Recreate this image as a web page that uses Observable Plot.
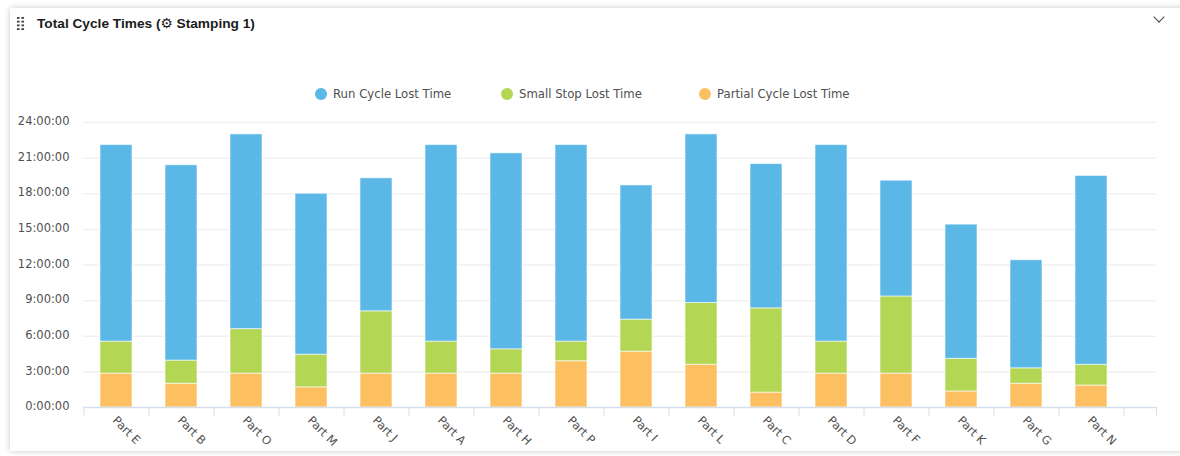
<!DOCTYPE html>
<html>
<head>
<meta charset="utf-8">
<script src="https://cdn.jsdelivr.net/npm/d3@7"></script>
<script src="https://cdn.jsdelivr.net/npm/@observablehq/plot@0.6"></script>
<style>
html,body{margin:0;padding:0;background:#fff;width:1180px;height:456px;overflow:hidden}
#card{position:absolute;left:10px;top:8px;width:1190px;height:443px;background:#fff;box-shadow:0 0 6px rgba(0,0,0,.22)}
#page{position:relative;width:1180px;height:456px}
#head{position:relative;height:84px;padding-top:8px;box-sizing:border-box}
#handle{position:absolute;left:16px;top:15.5px;width:9px;height:15px;background-image:radial-gradient(circle,#444 1.1px,transparent 1.4px);background-size:4.5px 3.75px}
#title{position:absolute;left:37px;top:15px;font:bold 13.7px "Liberation Sans",Arial,sans-serif;color:#1c1c1c;white-space:nowrap}
#chev{position:absolute;left:1155px;top:13px;width:7px;height:7px;border-right:1.8px solid #444;border-bottom:1.8px solid #444;transform:rotate(45deg)}
#legend{position:relative;height:21px;font:11.7px "DejaVu Sans",sans-serif;color:#505050}
.it{position:absolute;top:0;line-height:20px;white-space:nowrap}
.it i{position:absolute;left:-18px;top:4px;width:12px;height:12px;border-radius:50%}
#chart{position:relative;height:351px}
svg{display:block}
</style>
</head>
<body>
<div id="card"></div>
<div id="page">
  <div id="head">
    <div id="handle"></div>
    <div id="title">Total Cycle Times (<span style="font-family:'DejaVu Sans'">⚙</span> Stamping 1)</div>
    <div id="chev"></div>
  </div>
  <div id="legend"></div>
  <div id="chart"></div>
</div>
<script>
const parts = ["Part E","Part B","Part O","Part M","Part J","Part A","Part H","Part P","Part I","Part L","Part C","Part D","Part F","Part K","Part G","Part N"];
const partialLost = [2.85,2.0,2.85,1.7,2.85,2.85,2.85,3.9,4.7,3.6,1.25,2.85,2.85,1.35,2.0,1.85];
const smallStopLost = [2.7,1.95,3.75,2.75,5.25,2.7,2.05,1.65,2.7,5.2,7.1,2.7,6.5,2.75,1.3,1.75];
const runCycleLost = [16.55,16.45,16.4,13.55,11.2,16.55,16.5,16.55,11.3,14.2,12.15,16.55,9.75,11.3,9.1,15.9];
const seriesNames = ["Partial Cycle Lost Time","Small Stop Lost Time","Run Cycle Lost Time"];
const seriesColors = ["#fcc062","#b3d755","#5ab7e6"];
const yTicks = [0,3,6,9,12,15,18,21,24];
const legendOrder = [["Run Cycle Lost Time",333,"#5ab7e6"],["Small Stop Lost Time",519,"#b3d755"],["Partial Cycle Lost Time",717,"#fcc062"]];

const rows = [];
[partialLost, smallStopLost, runCycleLost].forEach((vals, s) =>
  vals.forEach((v, i) => rows.push({part: parts[i], series: seriesNames[s], value: v})));

const legend = d3.select("#legend");
legendOrder.forEach(([name, left, color]) => {
  const it = legend.append("div").attr("class", "it").style("left", left + "px").text(name);
  it.append("i").style("background", color);
});

const axisColor = "#d6dff0", textColor = "#505050";
const plot = Plot.plot({
  width: 1180, height: 351,
  marginLeft: 83, marginRight: 24, marginTop: 17, marginBottom: 49,
  style: {fontFamily: "'DejaVu Sans',sans-serif", fontSize: "11.5px", color: textColor, background: "transparent"},
  x: {domain: parts, range: [83, 1123], paddingInner: 0.515, paddingOuter: 0.2575, align: 0.5, label: null},
  y: {domain: [0, 24], label: null},
  color: {domain: seriesNames, range: seriesColors},
  marks: [
    Plot.ruleY(yTicks.slice(1), {stroke: "#f1f1f1", strokeWidth: 1.5}),
    Plot.barY(rows, {x: "part", y: "value", fill: "series", stroke: "#fff", strokeOpacity: 0.6, strokeWidth: 1, order: seriesNames}),
    Plot.ruleY([0], {stroke: axisColor, strokeWidth: 1.5}),
    Plot.axisY({ticks: yTicks, tickSize: 0, tickPadding: 14, tickFormat: d => `${d}:00:00`, dy: -1, label: null, fill: textColor}),
    Plot.axisX({tickSize: 9, stroke: axisColor, dx: -32.5, tickFormat: () => "", label: null}),
    Plot.axisX({ticks: ["Part N"], tickSize: 9, stroke: axisColor, dx: 32.5, tickFormat: () => "", label: null}),
    Plot.axisX({ticks: ["Part N"], tickSize: 9, stroke: axisColor, dx: 65, tickFormat: () => "", label: null}),
    Plot.axisX({tickSize: 0, tickRotate: 45, textAnchor: "start", tickPadding: 11, dx: -2, label: null, fill: textColor})
  ]
});
document.getElementById("chart").appendChild(plot);
</script>
</body>
</html>
